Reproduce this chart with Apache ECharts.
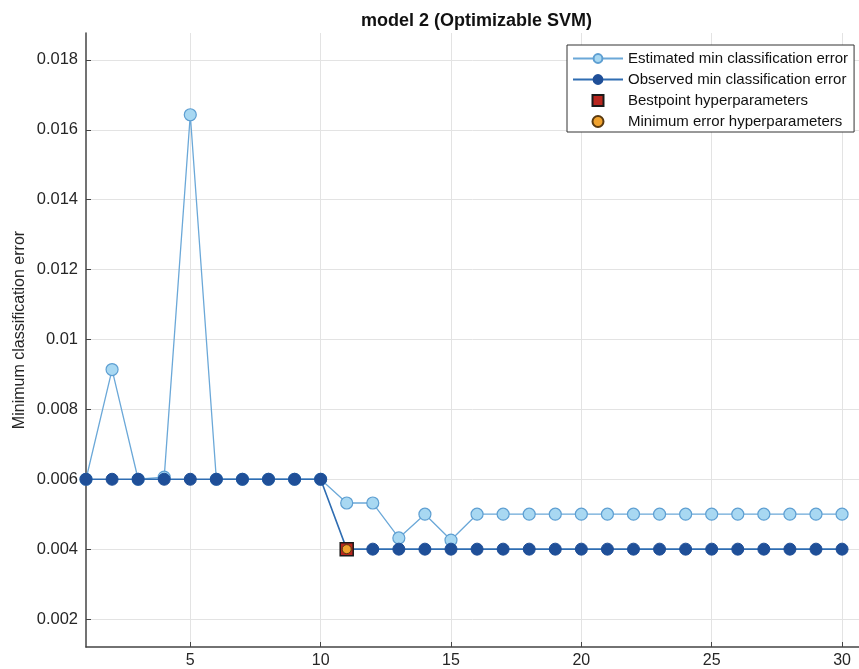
<!DOCTYPE html>
<html>
<head>
<meta charset="utf-8">
<script src="https://cdn.jsdelivr.net/npm/echarts@6/dist/echarts.min.js"></script>
<style>html,body{margin:0;padding:0;background:#fff}#c{width:859px;height:669px}</style>
</head>
<body>
<div id="c"></div>
<script>
const iterations = [1,2,3,4,5,6,7,8,9,10,11,12,13,14,15,16,17,18,19,20,21,22,23,24,25,26,27,28,29,30];
const estimatedMin = [0.006,0.00914,0.006,0.00606,0.01643,0.006,0.006,0.006,0.006,0.006,0.00532,0.00532,0.00432,0.005,0.00426,0.005,0.005,0.005,0.005,0.005,0.005,0.005,0.005,0.005,0.005,0.005,0.005,0.005,0.005,0.005];
const observedMin = [0.006,0.006,0.006,0.006,0.006,0.006,0.006,0.006,0.006,0.006,0.004,0.004,0.004,0.004,0.004,0.004,0.004,0.004,0.004,0.004,0.004,0.004,0.004,0.004,0.004,0.004,0.004,0.004,0.004,0.004];
const bestPoint = [[11, 0.004]];
const minErrorPoint = [[11, 0.004]];
const xTicks = [5,10,15,20,25,30];
const yTicks = [0.002,0.004,0.006,0.008,0.01,0.012,0.014,0.016,0.018];

const chart = echarts.init(document.getElementById('c'));
const txt = '#262626';
const font = 'Liberation Sans, Arial, sans-serif';
const squarePath = 'path://M0,0L10,0L10,10L0,10Z';
chart.setOption({
  animation: false,
  backgroundColor: '#fff',
  title: {
    text: 'model 2 (Optimizable SVM)',
    left: 356, top: 7,
    textStyle: {fontSize: 18, fontWeight: 'bold', color: '#111', fontFamily: font}
  },
  graphic: [{
    type: 'text', x: 20, y: 330, rotation: Math.PI / 2,
    style: {text: 'Minimum classification error', fontSize: 16, fill: txt, fontFamily: font, textAlign: 'center', textVerticalAlign: 'middle'}
  }],
  legend: {
    orient: 'vertical', left: 567, top: 45,
    padding: [6, 6, 3, 5], itemGap: 6, itemWidth: 50, itemHeight: 11,
    backgroundColor: '#fff', borderColor: '#333', borderWidth: 1, borderRadius: 0,
    textStyle: {fontSize: 15, lineHeight: 11, color: '#111', fontFamily: font},
    data: ['Estimated min classification error','Observed min classification error','Bestpoint hyperparameters','Minimum error hyperparameters']
  },
  grid: {left: 86, top: 33, right: 0, bottom: 21, containLabel: false},
  xAxis: {
    type: 'value', min: 1, max: 30.65,
    axisLine: {lineStyle: {color: '#444', width: 1.5}},
    axisTick: {inside: true, length: 5, customValues: xTicks, lineStyle: {color: '#444'}},
    axisLabel: {customValues: xTicks, color: txt, fontSize: 16, fontFamily: font, margin: 6},
    splitLine: {show: true, lineStyle: {color: '#e3e3e3'}}
  },
  yAxis: {
    type: 'value', min: 0.0012, max: 0.01877,
    axisLine: {show: true, lineStyle: {color: '#444', width: 1.5}},
    axisTick: {show: true, inside: true, length: 5, customValues: yTicks, lineStyle: {color: '#444'}},
    axisLabel: {customValues: yTicks, color: txt, fontSize: 16.5, fontFamily: font, margin: 8,
      formatter: v => String(+(+v).toFixed(3))},
    splitLine: {show: true, lineStyle: {color: '#e3e3e3'}}
  },
  series: [
    {
      name: 'Estimated min classification error', type: 'line', z: 2,
      data: iterations.map((x, i) => [x, estimatedMin[i]]),
      symbol: 'circle', symbolSize: 12,
      lineStyle: {color: '#6ba8d8', width: 1.3},
      itemStyle: {color: '#a8d8f2', borderColor: '#5e9fd2', borderWidth: 1.2}
    },
    {
      name: 'Observed min classification error', type: 'line', z: 3,
      data: iterations.map((x, i) => [x, observedMin[i]]),
      symbol: 'circle', symbolSize: 12,
      lineStyle: {color: '#2f6db2', width: 1.6},
      itemStyle: {color: '#1f4f98', borderColor: '#1f4f98', borderWidth: 1}
    },
    {
      name: 'Bestpoint hyperparameters', type: 'scatter', z: 4,
      data: bestPoint, symbol: squarePath, symbolKeepAspect: true, symbolSize: 13,
      itemStyle: {color: '#b8261f', borderColor: '#1a1a1a', borderWidth: 1.5, opacity: 1}
    },
    {
      name: 'Minimum error hyperparameters', type: 'scatter', z: 5,
      data: minErrorPoint, symbol: 'circle', symbolSize: 9,
      itemStyle: {color: '#f0a22e', borderColor: '#5a3a10', borderWidth: 1, opacity: 1}
    }
  ]
});
</script>
</body>
</html>
